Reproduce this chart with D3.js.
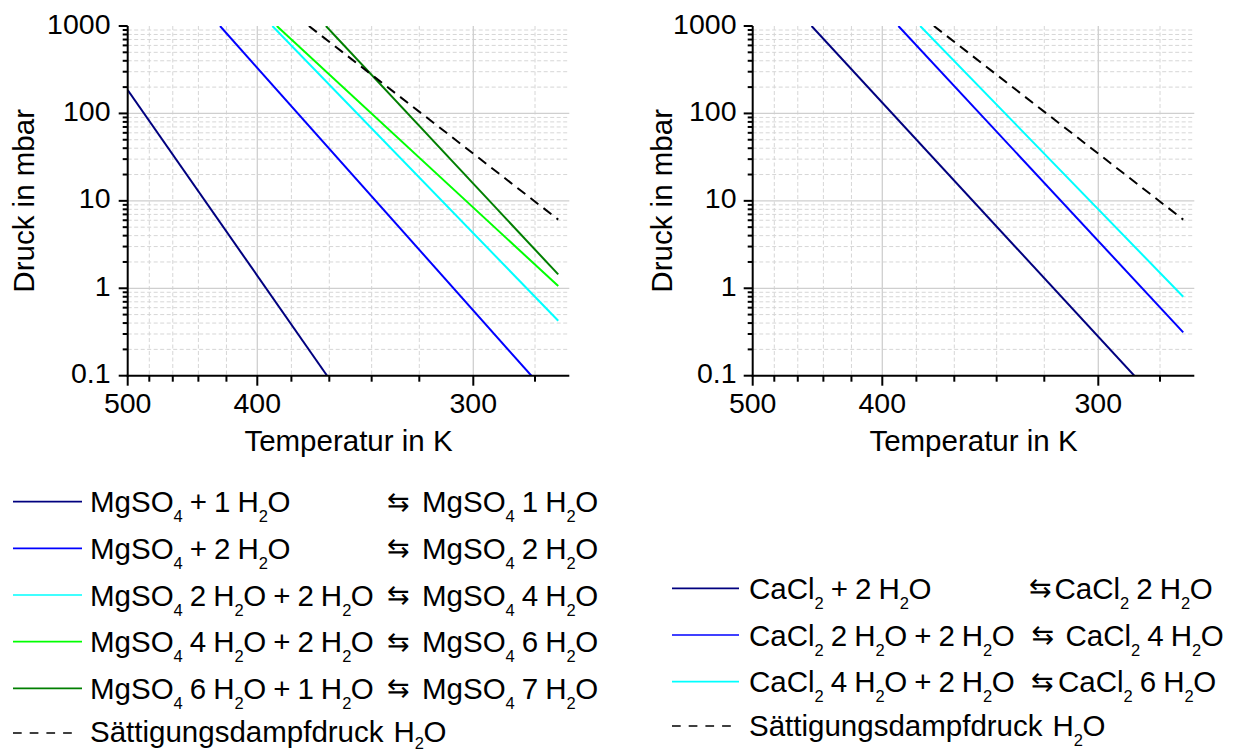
<!DOCTYPE html>
<html>
<head>
<meta charset="utf-8">
<script src="https://cdn.jsdelivr.net/npm/d3@7"></script>
<style>
  html, body { margin: 0; padding: 0; background: #fff; }
  svg { display: block; font-family: "Liberation Sans", Arial, sans-serif; }
</style>
</head>
<body>
<svg id="chart" width="1234" height="751"></svg>
<script>
// ---------------- DATA ----------------
// Temperature axis (K), pressure axis (mbar)
const xMajorTicks = [500, 400, 300];
const xMinorTicks = [480, 460, 440, 420, 380, 360, 340, 320, 280];
const yMajorTicks = [0.1, 1, 10, 100, 1000];
const yTickLabels = ["0.1", "1", "10", "100", "1000"];
const tempDomain = [500, 270];
const pressDomain = [0.1, 1000];

// Series: [temperature K, pressure mbar] end points (straight lines in 1/T - log p)
const mgso4_1 = [[500, 185], [361.1, 0.1]];
const mgso4_2 = [[424.4, 1000], [281.1, 0.1]];
const mgso4_4 = [[390.9, 1000], [273.15, 0.425]];
const mgso4_6 = [[388.3, 1000], [273.15, 1.06]];
const mgso4_7 = [[361.7, 1000], [273.15, 1.44]];
const water   = [[370.5, 1000], [273.15, 6.1]];

const cacl2_2 = [[449.0, 1000], [288.0, 0.1]];
const cacl2_4 = [[390.3, 1000], [273.15, 0.313]];
const cacl2_6 = [[377.9, 1000], [273.15, 0.80]];

const mgLabelsA = ["MgSO_4 + 1 H_2O", "MgSO_4 + 2 H_2O", "MgSO_4 2 H_2O + 2 H_2O", "MgSO_4 4 H_2O + 2 H_2O", "MgSO_4 6 H_2O + 1 H_2O"];
const mgLabelsB = ["MgSO_4 1 H_2O", "MgSO_4 2 H_2O", "MgSO_4 4 H_2O", "MgSO_4 6 H_2O", "MgSO_4 7 H_2O"];
const caLabelsA = ["CaCl_2 + 2 H_2O", "CaCl_2 2 H_2O + 2 H_2O", "CaCl_2 4 H_2O + 2 H_2O"];
const caLabelsB = ["CaCl_2 2 H_2O", "CaCl_2 4 H_2O", "CaCl_2 6 H_2O"];
const waterLabel = "Sättigungsdampfdruck H_2O";
const xTitle = "Temperatur in K";
const yTitle = "Druck in mbar";

// ---------------- STYLE ----------------
const mgColors = ["#00007f", "#0000ff", "#00ffff", "#00ff00", "#007f00"];
const caColors = ["#00007f", "#0000ff", "#00ffff"];
const mgSeries = [mgso4_1, mgso4_2, mgso4_4, mgso4_6, mgso4_7];
const caSeries = [cacl2_2, cacl2_4, cacl2_6];

const svg = d3.select("#chart");
const plotTop = 26, plotBottom = 375.7, pw = 441.6;

function drawPanel(x0, series, colors, yLabelEnd, yTitleX) {
  const x = d3.scaleLinear().domain(tempDomain.map(t => 1 / t)).range([x0, x0 + pw]);
  const fx = t => x(1 / t);
  const y = d3.scaleLog().domain(pressDomain).range([plotBottom, plotTop]);
  const g = svg.append("g");
  const clipId = "clip" + Math.round(x0);
  svg.append("clipPath").attr("id", clipId).append("rect")
    .attr("x", x0).attr("y", plotTop).attr("width", pw).attr("height", plotBottom - plotTop);

  const yMinor = [];
  for (let d = 0.1; d < 1000; d *= 10) for (let k = 2; k <= 9; k++) yMinor.push(+(d * k).toPrecision(3));

  // grid
  const grid = g.append("g");
  grid.selectAll(".hmin").data(yMinor).join("line")
    .attr("x1", x0).attr("x2", x0 + pw).attr("y1", d => y(d)).attr("y2", d => y(d))
    .attr("stroke", "#d6d6d6").attr("stroke-width", 1).attr("stroke-dasharray", "4,2.5");
  grid.selectAll(".vmin").data(xMinorTicks).join("line")
    .attr("x1", d => fx(d)).attr("x2", d => fx(d)).attr("y1", plotTop).attr("y2", plotBottom)
    .attr("stroke", "#d6d6d6").attr("stroke-width", 1).attr("stroke-dasharray", "4,2.5");
  grid.selectAll(".hmaj").data(yMajorTicks.slice(1, 4)).join("line")
    .attr("x1", x0).attr("x2", x0 + pw).attr("y1", d => y(d)).attr("y2", d => y(d))
    .attr("stroke", "#cfcfcf").attr("stroke-width", 1.3);
  grid.selectAll(".vmaj").data(xMajorTicks.slice(1)).join("line")
    .attr("x1", d => fx(d)).attr("x2", d => fx(d)).attr("y1", plotTop).attr("y2", plotBottom)
    .attr("stroke", "#cfcfcf").attr("stroke-width", 1.3);

  // series
  const line = d3.line().x(d => fx(d[0])).y(d => y(d[1]));
  const lines = g.append("g").attr("clip-path", `url(#${clipId})`);
  series.forEach((s, i) => {
    lines.append("path").attr("d", line(s)).attr("fill", "none")
      .attr("stroke", colors[i]).attr("stroke-width", 2);
  });
  lines.append("path").attr("d", line(water)).attr("fill", "none")
    .attr("stroke", "#000").attr("stroke-width", 2).attr("stroke-dasharray", "10,6.5");

  // axes
  const ax = g.append("g").attr("stroke", "#000").attr("stroke-width", 2);
  ax.append("line").attr("x1", x0).attr("x2", x0).attr("y1", plotTop).attr("y2", plotBottom + 1);
  ax.append("line").attr("x1", x0 - 1).attr("x2", x0 + pw).attr("y1", plotBottom).attr("y2", plotBottom);
  ax.selectAll(".ymaj").data(yMajorTicks).join("line")
    .attr("x1", x0 - 9).attr("x2", x0).attr("y1", d => y(d)).attr("y2", d => y(d));
  ax.selectAll(".ymin").data(yMinor).join("line")
    .attr("x1", x0 - 5).attr("x2", x0).attr("y1", d => y(d)).attr("y2", d => y(d));
  ax.selectAll(".xmaj").data(xMajorTicks).join("line")
    .attr("x1", d => fx(d)).attr("x2", d => fx(d)).attr("y1", plotBottom).attr("y2", plotBottom + 10);
  ax.selectAll(".xmin").data(xMinorTicks).join("line")
    .attr("x1", d => fx(d)).attr("x2", d => fx(d)).attr("y1", plotBottom).attr("y2", plotBottom + 6);

  // labels
  g.selectAll(".yl").data(yMajorTicks).join("text")
    .attr("x", yLabelEnd).attr("y", d => y(d) + 7.5).attr("text-anchor", "end")
    .attr("font-size", 28.5).text((d, i) => yTickLabels[i]);
  g.selectAll(".xl").data(xMajorTicks).join("text")
    .attr("x", d => fx(d)).attr("y", 413).attr("text-anchor", "middle")
    .attr("font-size", 28.5).text(d => d);
  g.append("text").attr("x", x0 + pw / 2).attr("y", 451).attr("text-anchor", "middle")
    .attr("font-size", 29.5).text(xTitle);
  g.append("text").attr("transform", `translate(${yTitleX},${(plotTop + plotBottom) / 2}) rotate(-90)`)
    .attr("text-anchor", "middle").attr("font-size", 29.5).text(yTitle);
}

drawPanel(127.7, mgSeries, mgColors, 110.5, 33.5);
drawPanel(752.7, caSeries, caColors, 736.5, 671.5);

// ---------------- LEGEND ----------------
const FS = 29.5, SUB = 16.5;
function rich(g, str, x, y, subDy = 10) {
  const t = g.append("text").attr("x", x).attr("y", y).attr("font-size", FS);
  const words = str.split(" ");
  let shifted = false, prev = null;
  words.forEach((w, wi) => {
    const segs = [];
    for (let i = 0; i < w.length; i++) {
      if (w[i] === "_") { segs.push({ s: w[i + 1], sub: true }); i++; }
      else if (segs.length && !segs[segs.length - 1].sub) segs[segs.length - 1].s += w[i];
      else segs.push({ s: w[i], sub: false });
    }
    segs.forEach((sg, si) => {
      const ts = t.append("tspan").text(sg.s);
      let dx = 0;
      if (si === 0 && wi > 0) dx = (prev && prev.length > 8) ? 10 : 7;
      let dy = 0;
      if (sg.sub) { ts.attr("font-size", SUB); if (!shifted) { dy = subDy; shifted = true; } }
      else if (shifted) { dy = -subDy; shifted = false; if (si > 0) dx = -0.5; }
      if (dx) ts.attr("dx", dx);
      if (dy) ts.attr("dy", dy);
    });
    prev = w;
  });
  return t;
}

const leg = svg.append("g");
// left legend
const lRowY = [501.7, 548.3, 595, 641.7, 688.3];
mgLabelsA.forEach((lab, i) => {
  leg.append("line").attr("x1", 13).attr("x2", 82).attr("y1", lRowY[i]).attr("y2", lRowY[i])
    .attr("stroke", mgColors[i]).attr("stroke-width", 1.7);
  rich(leg, lab, 90, lRowY[i] + 10.5);
  leg.append("text").attr("x", 387).attr("y", lRowY[i] + 9).attr("font-size", 27)
    .attr("font-family", "DejaVu Sans").text("⇆");
  rich(leg, mgLabelsB[i], 422, lRowY[i] + 10.5);
});
leg.append("line").attr("x1", 13).attr("x2", 72).attr("y1", 733).attr("y2", 733)
  .attr("stroke", "#000").attr("stroke-width", 1.5).attr("stroke-dasharray", "8.7,8");
rich(leg, waterLabel, 90, 742, 7);

// right legend
const rRowY = [588.3, 635, 681.7];
const rArrowX = [1029, 1031.5, 1031];
const rBX = [1054.5, 1065.5, 1058];
caLabelsA.forEach((lab, i) => {
  leg.append("line").attr("x1", 672).attr("x2", 739).attr("y1", rRowY[i]).attr("y2", rRowY[i])
    .attr("stroke", caColors[i]).attr("stroke-width", 1.7);
  rich(leg, lab, 749, rRowY[i] + 10.5);
  leg.append("text").attr("x", rArrowX[i]).attr("y", rRowY[i] + 9).attr("font-size", 27)
    .attr("font-family", "DejaVu Sans").text("⇆");
  rich(leg, caLabelsB[i], rBX[i], rRowY[i] + 10.5);
});
leg.append("line").attr("x1", 672).attr("x2", 731).attr("y1", 726).attr("y2", 726)
  .attr("stroke", "#000").attr("stroke-width", 1.5).attr("stroke-dasharray", "8.7,8");
rich(leg, waterLabel, 749, 736);
</script>
</body>
</html>
